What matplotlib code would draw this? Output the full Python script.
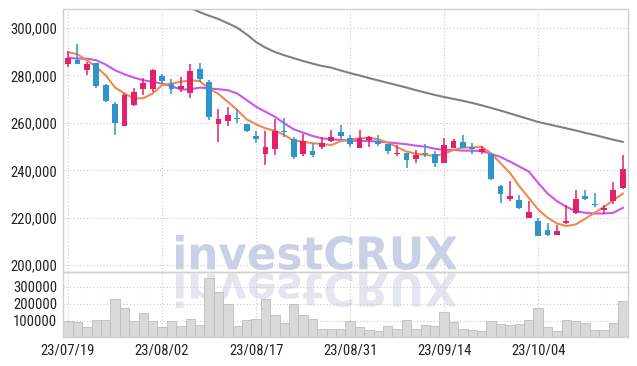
import numpy as np
import matplotlib.pyplot as plt
from matplotlib import font_manager as fm
from matplotlib.patches import PathPatch
from matplotlib.textpath import TextPath
from matplotlib.font_manager import FontProperties
from matplotlib.transforms import Affine2D
from matplotlib.ticker import FuncFormatter, FixedLocator

# trading days 2023-07-19 .. 2023-10-18
dates = [
    '23/07/19', '23/07/20', '23/07/21', '23/07/24', '23/07/25', '23/07/26', '23/07/27', '23/07/28', '23/07/31',
    '23/08/01', '23/08/02', '23/08/03', '23/08/04', '23/08/07', '23/08/08', '23/08/09', '23/08/10', '23/08/11',
    '23/08/14', '23/08/16', '23/08/17', '23/08/18', '23/08/21', '23/08/22', '23/08/23', '23/08/24', '23/08/25',
    '23/08/28', '23/08/29', '23/08/30', '23/08/31', '23/09/01', '23/09/04', '23/09/05', '23/09/06', '23/09/07',
    '23/09/08', '23/09/11', '23/09/12', '23/09/13', '23/09/14', '23/09/15', '23/09/18', '23/09/19', '23/09/20',
    '23/09/21', '23/09/22', '23/09/25', '23/09/26', '23/09/27', '23/10/04', '23/10/05', '23/10/06', '23/10/10',
    '23/10/11', '23/10/12', '23/10/13', '23/10/16', '23/10/17', '23/10/18',
]

opens = [285000, 286700, 282500, 285200, 275900, 267900, 258700, 267600, 274500, 274100,
         279700, 276600, 274100, 272700, 282900, 277300, 259500, 261000, 262100, 259500,
         254600, 247000, 248800, 256700, 253100, 247000, 248300, 249800, 252300, 256300,
         253500, 249600, 252800, 252400, 251100, 246700, 247500, 244600, 247500, 246900,
         243300, 249600, 252000, 250000, 247700, 247000, 233500, 227700, 227400, 220000,
         218500, 214700, 212600, 217600, 222000, 229300, 225600, 223300, 227000, 232600]
highs = [290500, 293100, 285500, 285200, 276600, 268900, 272400, 274900, 279000, 282600,
         280500, 278700, 279400, 285000, 285200, 278000, 266000, 266600, 266000, 259500,
         256700, 256600, 261500, 261900, 254200, 255300, 251700, 254000, 257000, 259100,
         255100, 257000, 254500, 254900, 251100, 250600, 247500, 248600, 251000, 248300,
         253500, 253100, 254900, 251400, 250300, 247500, 234000, 235300, 229800, 227000,
         220000, 217900, 217000, 225200, 231500, 231900, 230500, 225200, 235000, 246500]
lows = [283500, 284800, 280000, 274900, 268900, 254900, 258700, 267100, 271700, 273100,
        276600, 272000, 273100, 270300, 277300, 261200, 252000, 258700, 259800, 256300,
        251500, 242400, 246600, 254200, 244700, 246200, 245600, 249200, 252000, 253100,
        250000, 249300, 249800, 250400, 247000, 246100, 241000, 243300, 245600, 241400,
        243000, 249300, 249300, 247000, 247000, 236000, 226300, 226900, 223800, 220000,
        212300, 212300, 212600, 217200, 221700, 227400, 224600, 221400, 226000, 232200]
closes = [287500, 285000, 285000, 275500, 269300, 260100, 271700, 273000, 276900, 282200,
          277600, 274100, 275500, 281800, 278300, 262400, 261600, 263200, 261700, 256700,
          253100, 250000, 256600, 256200, 245800, 252500, 246600, 251700, 254200, 254500,
          251000, 253500, 254000, 250900, 248300, 247500, 244200, 246500, 246900, 243300,
          250600, 252400, 249300, 248900, 248800, 236400, 230200, 229000, 224300, 222600,
          212300, 212600, 214300, 218500, 227700, 228000, 225200, 224300, 231900, 240700]

ma_short = [289850, 288900, 286400, 283600, 280100, 274900, 272400, 270300, 270400, 272400,
            275900, 276600, 277300, 278000, 277600, 274500, 272200, 268900, 265400, 261500,
            259400, 257700, 256700, 254900, 252500, 252100, 251400, 251150, 250600, 252300,
            252800, 253500, 253800, 253100, 251700, 249800, 247900, 247000, 246500, 246100,
            247000, 248600, 249600, 249600, 250000, 247100, 243000, 238900, 233250, 228400,
            223500, 220000, 217600, 216500, 217200, 219600, 222100, 224600, 227400, 230200]
ma_mid = [287500, 287100, 287100, 286400, 284600, 282200, 280500, 279100, 278000, 277300,
          276600, 275500, 274100, 274100, 274900, 274500, 274200, 273800, 272400, 269600,
          266800, 264700, 262600, 259800, 257300, 255900, 254500, 253500, 253100, 252800,
          252500, 252400, 252400, 252100, 251800, 251400, 251000, 250400, 250000, 249100,
          248600, 248600, 248300, 248300, 248100, 247000, 245600, 243700, 241600, 239500,
          234700, 230200, 227000, 224600, 222800, 222100, 221800, 221800, 222100, 224200]
ma_long = [None] * 13 + [
    308500, 306700, 305200, 303800, 302000, 300100, 297300, 294100, 291700, 289900,
    288500, 287300, 286100, 285000, 284000, 283300, 282100, 281000, 280000, 278900,
    277900, 276900, 275900, 274900, 273800, 272800, 271800, 270900, 270100, 269300,
    268400, 267400, 266300, 265200, 264000, 262800, 261600, 260400, 259500, 258600,
    257700, 256800, 255800, 254900, 253900, 252900, 252000]

volumes = [96000, 90000, 59000, 106000, 106000, 229000, 176000, 100000, 147000, 96000,
           59000, 100000, 65000, 112000, 71000, 353000, 270000, 200000, 65000, 106000,
           112000, 229000, 135000, 84000, 200000, 135000, 112000, 48000, 53000, 53000,
           100000, 59000, 43000, 37000, 65000, 53000, 106000, 53000, 76000, 65000,
           153000, 90000, 53000, 47000, 41000, 100000, 82000, 71000, 82000, 106000,
           176000, 59000, 41000, 106000, 100000, 88000, 47000, 47000, 88000, 218000]

price_ticks = [200000, 220000, 240000, 260000, 280000, 300000]
volume_ticks = [100000, 200000, 300000]
label_every = 10

UP = '#e2206c'
DOWN = '#2e94c9'
GRID = '#c8c8dc'
SPINE = '#d0d0d0'


# narrow font if one is installed, otherwise Liberation Sans at a smaller size
def pick_font(cands):
    for fam, size in cands:
        try:
            fm.findfont(FontProperties(family=fam), fallback_to_default=False)
            return fam, size
        except ValueError:
            continue
    return 'DejaVu Sans', 8.5


font_name, font_size = pick_font([('Liberation Sans Narrow', 11), ('Roboto Condensed', 10.5),
                                  ('DejaVu Sans Condensed', 9.3), ('Liberation Sans', 9.3)])
plt.rcParams['font.family'] = [font_name, 'DejaVu Sans']

fig = plt.figure(figsize=(6.37, 3.66), dpi=100)
fig.patch.set_facecolor('white')

# watermark + reflection, drawn behind the chart in pixel coordinates
bg = fig.add_axes([0, 0, 1, 1], zorder=-1)
bg.set_xlim(0, 637)
bg.set_ylim(366, 0)
bg.axis('off')
tp = TextPath((0, 0), 'investCRUX', size=10,
              prop=FontProperties(family='DejaVu Sans', weight='bold'))
ext = tp.get_extents()
sx = (457 - 176) / ext.width
sy = (270 - 235) / ext.height
t_main = Affine2D().translate(-ext.x0, -ext.y0).scale(sx, -sy).translate(176, 270)
t_refl = Affine2D().translate(-ext.x0, -ext.y0).scale(sx, sy).translate(176, 273)
bg.add_patch(PathPatch(tp.transformed(t_main), facecolor='#cad1e6', edgecolor='none'))
bg.add_patch(PathPatch(tp.transformed(t_refl), facecolor='#e3e6ef', edgecolor='none'))

x = np.arange(len(dates))
o = np.array(opens)
c = np.array(closes)
up = c >= o
colors = np.where(up, UP, DOWN)

ax = fig.add_axes([0.0994, 0.256, 0.8857, 0.7186])
axv = fig.add_axes([0.0994, 0.0779, 0.8857, 0.1781], sharex=ax)

for a in (ax, axv):
    a.set_facecolor('none')
    a.grid(True, color=GRID, linestyle=(0, (1, 2)), lw=0.8)
    a.set_axisbelow(True)
    for s in a.spines.values():
        s.set_color(SPINE)
        s.set_linewidth(1)
    a.tick_params(length=0, pad=4.5, labelsize=font_size, labelcolor='#222222')

# moving averages (behind candles)
ax.plot(x, np.array(ma_long, dtype=float), color='#808080', lw=1.5, zorder=2)
ax.plot(x, ma_mid, color='#cc55ee', lw=1.5, zorder=2)
ax.plot(x, ma_short, color='#f08a4b', lw=1.5, zorder=2)

# candles
ax.vlines(x, lows, highs, colors=colors, lw=1.1, zorder=3)
body = np.maximum(np.abs(c - o), 500)
ax.bar(x, body, bottom=np.minimum(o, c), width=0.62, color=colors, zorder=4)

ax.set_xlim(-0.5, len(dates) - 0.5)
ax.set_ylim(197000, 307900)
ax.yaxis.set_major_locator(FixedLocator(price_ticks))
ax.yaxis.set_major_formatter(FuncFormatter(lambda v, p: f'{v:,.0f}'))
ax.tick_params(labelbottom=False)

# volume
axv.bar(x, volumes, width=1.0, color='#d9d9d9', edgecolor='#bdbdbd', lw=0.6, zorder=2)
axv.set_ylim(0, 385000)
axv.yaxis.set_major_locator(FixedLocator(volume_ticks))
axv.yaxis.set_major_formatter(FuncFormatter(lambda v, p: f'{v:.0f}'))
tick_idx = list(range(0, len(dates), label_every))
axv.set_xticks(tick_idx)
axv.set_xticklabels([dates[i] for i in tick_idx])

fig.savefig('out.png', dpi=100, facecolor='white')
